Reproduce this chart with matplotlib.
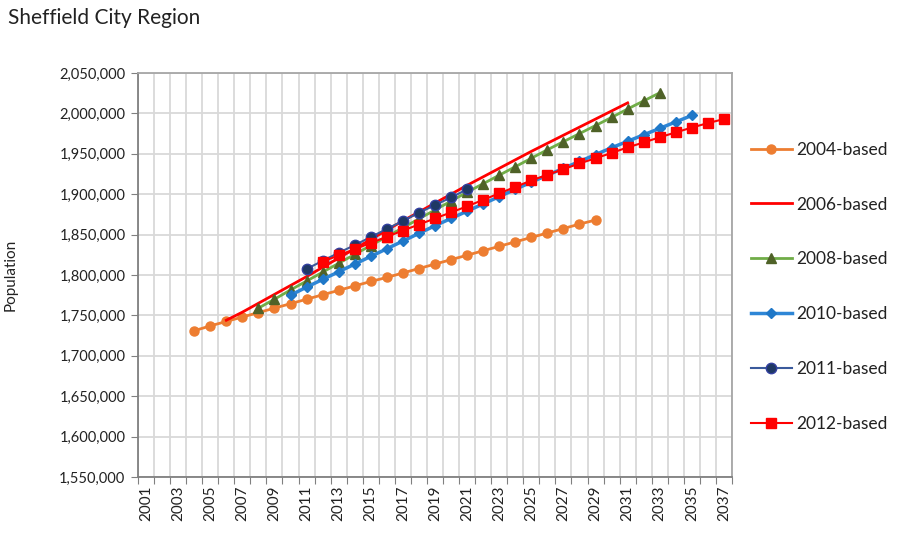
import matplotlib
matplotlib.use("Agg")
import matplotlib.pyplot as plt
from matplotlib.ticker import FuncFormatter, FixedLocator

plt.rcParams['font.family'] = ['Lato', 'DejaVu Sans']

# ---------------------------------------------------------------------------
# Data (population)
# ---------------------------------------------------------------------------
years_2004 = list(range(2004, 2030))
pop_2004 = [1731000, 1737000, 1742500, 1748000, 1753500, 1759000, 1764500,
            1770000, 1775500, 1781000, 1786500, 1792000, 1797000, 1802500,
            1808000, 1813500, 1819000, 1824500, 1830000, 1835500, 1841000,
            1846500, 1852000, 1857500, 1863000, 1868000]

years_2006 = list(range(2006, 2032))
pop_2006 = [1744000, 1754000, 1765000, 1776000, 1787000, 1798000, 1809500,
            1821000, 1832500, 1844000, 1855500, 1867000, 1878000, 1889000,
            1900000, 1911000, 1921500, 1932000, 1942500, 1953000, 1963000,
            1973000, 1983000, 1993000, 2003000, 2013000]

years_2008 = list(range(2008, 2034))
pop_2008 = [1759000, 1770000, 1781500, 1792500, 1803500, 1814500, 1825500,
            1836500, 1847500, 1858500, 1869500, 1880500, 1891500, 1902500,
            1913000, 1923500, 1934000, 1944500, 1955000, 1965000, 1975000,
            1985000, 1995000, 2005500, 2015500, 2025500]

years_2010 = list(range(2010, 2036))
pop_2010 = [1775000, 1785000, 1794500, 1804000, 1813500, 1823000, 1832500,
            1842000, 1851500, 1861000, 1870000, 1879000, 1888000, 1897000,
            1906000, 1915000, 1923500, 1932000, 1940500, 1949000, 1957500,
            1965500, 1973500, 1981500, 1989500, 1997500]

years_2011 = list(range(2011, 2022))
pop_2011 = [1807500, 1817500, 1827500, 1837000, 1847000, 1857000, 1867000,
            1877000, 1886500, 1896000, 1906000]

years_2012 = list(range(2012, 2038))
pop_2012 = [1816500, 1824300, 1832000, 1839700, 1847300, 1855000, 1862500,
            1870000, 1877500, 1885000, 1893000, 1901000, 1909000, 1917000,
            1924000, 1931000, 1938000, 1944500, 1951000, 1958000, 1964000,
            1970500, 1976500, 1982500, 1988000, 1993000]

category_years = list(range(2001, 2038))
label_years = category_years[::2]

# ---------------------------------------------------------------------------
# Figure
# ---------------------------------------------------------------------------
fig = plt.figure(figsize=(8.98, 5.35), dpi=100)
ax = fig.add_axes([138 / 898, 1 - 477 / 535, (732 - 138) / 898, (477 - 73) / 535])

ax.plot(years_2004, pop_2004, color='#ED7D31', lw=2, marker='o', ms=6.5,
        label='2004-based', zorder=3)
ax.plot(years_2006, pop_2006, color='#FF0000', lw=2, label='2006-based', zorder=3)
ax.plot(years_2008, pop_2008, color='#70AD47', lw=2, marker='^', ms=7,
        mfc='#4F6228', mec='#4F6228', label='2008-based', zorder=3)
ax.plot(years_2010, pop_2010, color='#2E86D6', lw=2.5, marker='D', ms=5,
        mfc='#1F78C8', mec='#1F78C8', label='2010-based', zorder=3)
ax.plot(years_2011, pop_2011, color='#3A5A9C', lw=1.5, marker='o', ms=7.5,
        mfc='#1F3864', mec='#3340A0', label='2011-based', zorder=3)
ax.plot(years_2012, pop_2012, color='#FF0000', lw=1.5, marker='s', ms=7,
        label='2012-based', zorder=3)

# axes limits and ticks (category axis, labels between tick marks)
ax.set_xlim(2000.5, 2037.5)
ax.set_ylim(1550000, 2050000)
ax.set_yticks(range(1550000, 2050001, 50000))
ax.yaxis.set_major_formatter(FuncFormatter(lambda v, p: f'{int(v):,}'))

ax.xaxis.set_major_locator(FixedLocator([y - 0.5 for y in category_years + [2038]]))
ax.xaxis.set_major_formatter(FuncFormatter(lambda v, p: ''))
ax.xaxis.set_minor_locator(FixedLocator(label_years))
ax.set_xticklabels([str(y) for y in label_years], minor=True, rotation=90)
ax.tick_params(axis='x', which='minor', length=0, labelsize=11,
               labelcolor='#222222', pad=6)
ax.tick_params(axis='x', which='major', length=5, color='#808080', direction='out')
ax.tick_params(axis='y', length=5, color='#808080', labelsize=10.5,
               labelcolor='#222222', pad=4)

ax.grid(True, which='major', color='#D9D9D9', lw=1.3, zorder=0)
ax.set_axisbelow(True)

for side in ['top', 'right']:
    ax.spines[side].set_color('#A6A6A6')
    ax.spines[side].set_linewidth(1.3)
for side in ['left', 'bottom']:
    ax.spines[side].set_color('#808080')
    ax.spines[side].set_linewidth(1.3)

ax.set_ylabel('Population', fontsize=11, color='#222222')
ax.yaxis.set_label_coords(-(138 - 18) / 594, 0.5)

fig.text(8 / 898, 1 - 18 / 535, 'Sheffield City Region', fontsize=15,
         color='#222222', va='center', ha='left')

fig.legend(loc='upper left', bbox_to_anchor=(735 / 898, 1 - 126 / 535),
           frameon=False, fontsize=12.5, labelspacing=2.24, handlelength=2.36,
           handletextpad=0.25, labelcolor='#222222')

fig.savefig('out.png', dpi=100)
